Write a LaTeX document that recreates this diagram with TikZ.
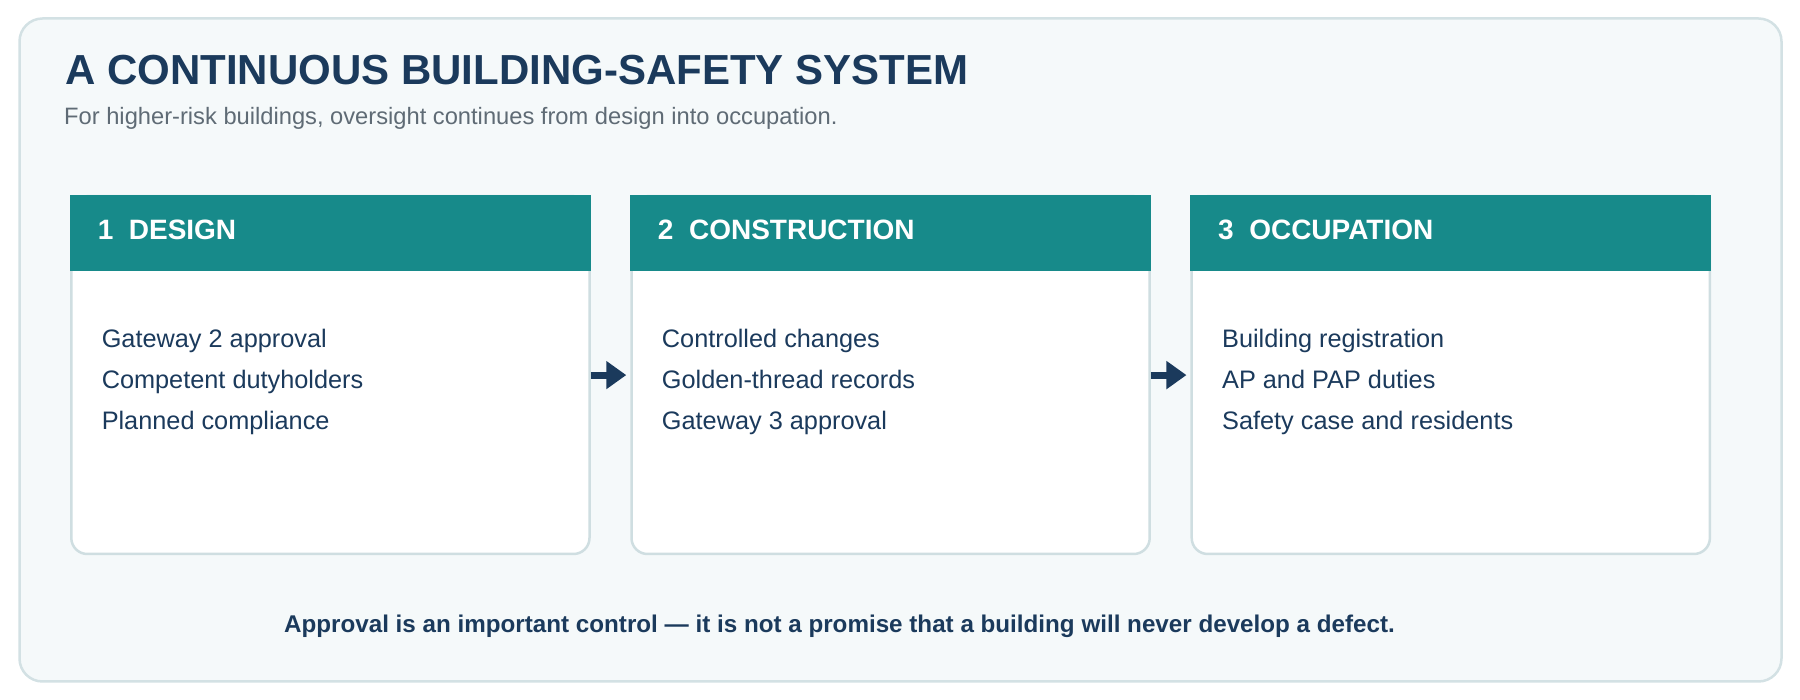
\documentclass[tikz,border=0pt]{standalone}
\usepackage{fontspec}
\setmainfont{Liberation Sans}
\usepackage{tikz}
\usetikzlibrary{arrows.meta,positioning}

\definecolor{navy}{HTML}{1B3A5C}
\definecolor{teal}{HTML}{178A8A}
\definecolor{framebg}{HTML}{F5F9FA}
\definecolor{frameline}{HTML}{D3E1E4}
\definecolor{cardline}{HTML}{CFDEE1}
\definecolor{subgrey}{HTML}{5F6B75}

\begin{document}
\begin{tikzpicture}[x=1pt, y=1pt,
    card/.style={draw=cardline, line width=2.5pt, fill=white, rounded corners=16pt,
        minimum width=518.2pt, minimum height=357.8pt, inner sep=0pt},
    head/.style={anchor=base west, inner sep=0pt, text=white,
        font=\fontsize{28}{34}\selectfont\bfseries},
    item/.style={anchor=base west, inner sep=0pt, text=navy,
        font=\fontsize{25.3}{30}\selectfont},
    flow/.style={-{Triangle[length=20pt,width=27pt]}, line width=7pt, draw=navy,
        shorten >=4pt}]

    \useasboundingbox (0,0) rectangle (1800,700);
    \draw[draw=frameline, fill=framebg, line width=2.5pt, rounded corners=23pt]
        (19.5,18.5) rectangle (1781.5,681.5);

    \node[anchor=base west, inner sep=0pt, text=navy,
        font=\fontsize{42}{50}\selectfont\bfseries] (title) at (65,615)
    {A CONTINUOUS BUILDING-SAFETY SYSTEM};
    \node[anchor=base west, inner sep=0pt, text=subgrey,
        font=\fontsize{23.7}{28}\selectfont] (subtitle) at (64,575)
    {For higher-risk buildings, oversight continues from design into occupation.};

    \node[card] (design) at (330.4,324.9) {};
    \node[card, right=39.5pt of design] (build) {};
    \node[card, right=39.5pt of build] (occupy) {};

    \fill[teal] (design.north west) rectangle ([yshift=-75.7pt]design.north east);
    \fill[teal] (build.north west) rectangle ([yshift=-75.7pt]build.north east);
    \fill[teal] (occupy.north west) rectangle ([yshift=-75.7pt]occupy.north east);

    \node[head] (design-head) at ([xshift=27.5pt, yshift=-45pt]design.north west) {1\ \ DESIGN};
    \node[head] (build-head) at ([xshift=27.5pt, yshift=-45pt]build.north west) {2\ \ CONSTRUCTION};
    \node[head] (occupy-head) at ([xshift=27.5pt, yshift=-45pt]occupy.north west) {3\ \ OCCUPATION};

    \node[item] (design-1) at ([xshift=31.5pt, yshift=-153pt]design.north west) {Gateway 2 approval};
    \node[item] (design-2) at ([yshift=-41pt]design-1.base west) {Competent dutyholders};
    \node[item] (design-3) at ([yshift=-41pt]design-2.base west) {Planned compliance};

    \node[item] (build-1) at ([xshift=31.5pt, yshift=-153pt]build.north west) {Controlled changes};
    \node[item] (build-2) at ([yshift=-41pt]build-1.base west) {Golden-thread records};
    \node[item] (build-3) at ([yshift=-41pt]build-2.base west) {Gateway 3 approval};

    \node[item] (occupy-1) at ([xshift=31.5pt, yshift=-153pt]occupy.north west) {Building registration};
    \node[item] (occupy-2) at ([yshift=-41pt]occupy-1.base west) {AP and PAP duties};
    \node[item] (occupy-3) at ([yshift=-41pt]occupy-2.base west) {Safety case and residents};

    \draw[flow] (design) -- (build);
    \draw[flow] (build) -- (occupy);

    \node[anchor=base, inner sep=0pt, text=navy,
        font=\fontsize{24.2}{29}\selectfont\bfseries] (note) at (839.5,67.7)
    {Approval is an important control — it is not a promise that a building will never develop a defect.};

\end{tikzpicture}
\end{document}
